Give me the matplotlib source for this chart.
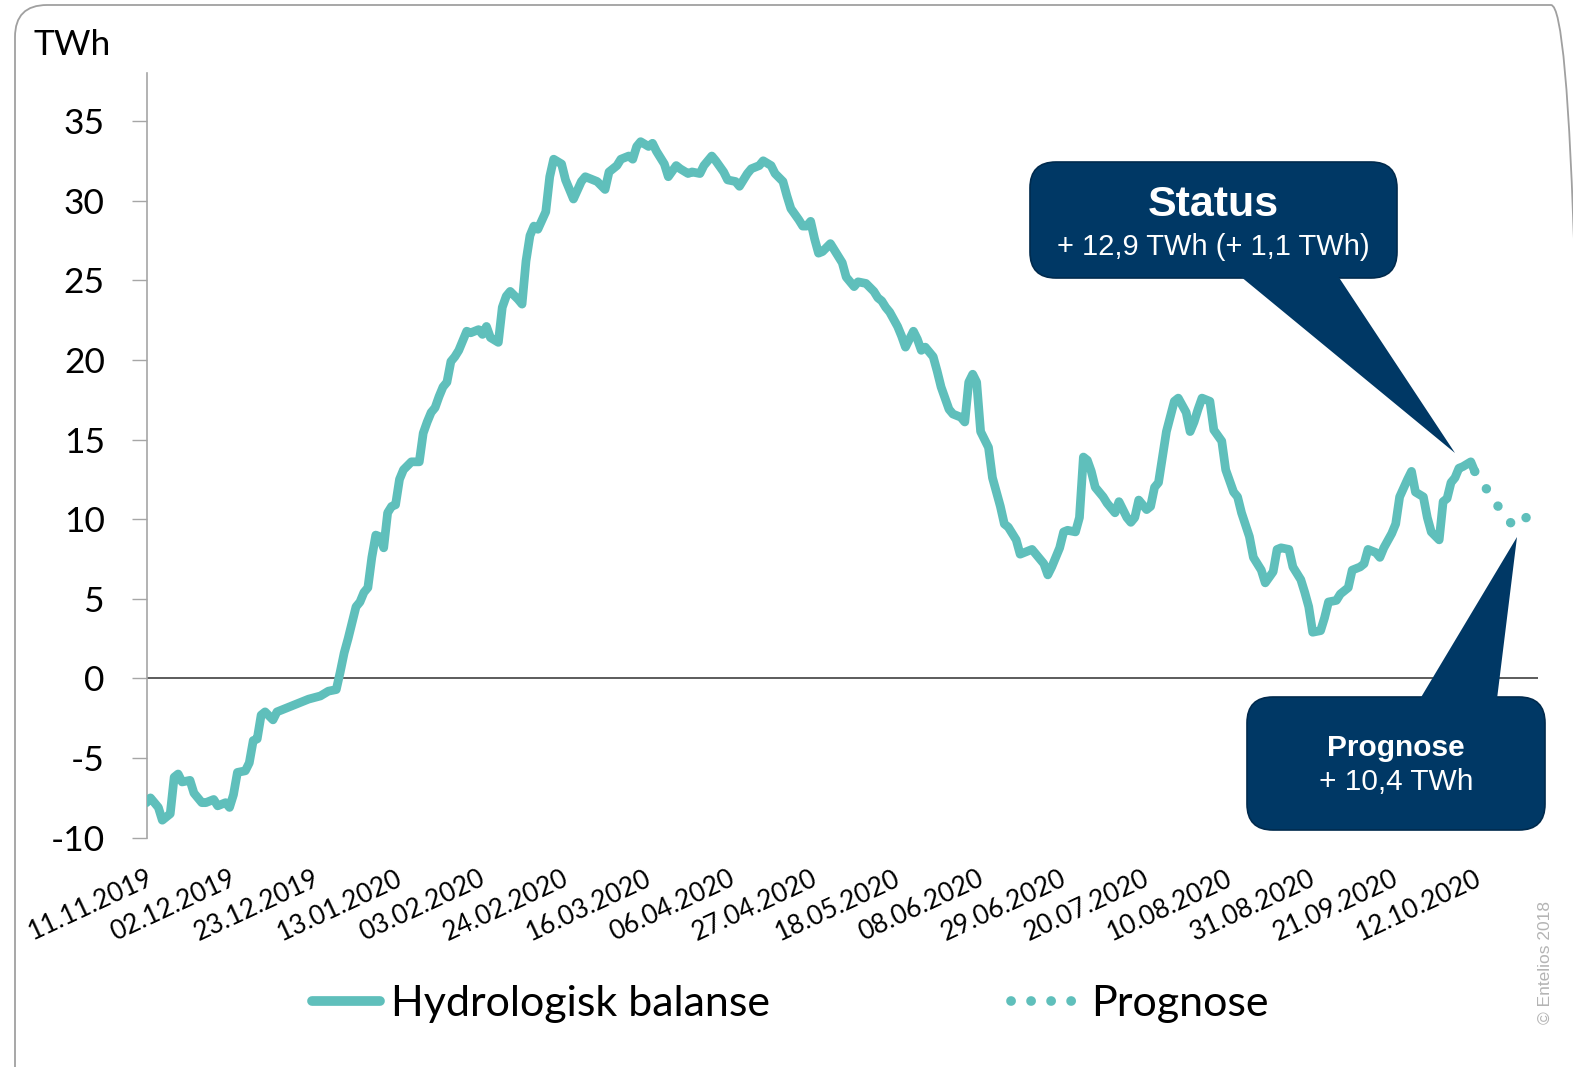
import numpy as np
import pandas as pd
import matplotlib
matplotlib.use("Agg")
import matplotlib.pyplot as plt
from matplotlib.patches import FancyBboxPatch, Polygon
from matplotlib.lines import Line2D
from matplotlib.transforms import IdentityTransform

# Data: hydrological balance (TWh), day offsets from start date
start_date = "2019-11-11"
hist_days = [0, 1, 3, 4, 6, 7, 8, 9, 11, 12, 14, 15, 17, 18, 20, 21, 22, 23, 25, 26,
             27, 28, 29, 30, 32, 33, 34, 36, 39, 41, 44, 46, 48, 49, 50, 51, 53, 54, 55, 56,
             57, 58, 59, 60, 61, 62, 63, 64, 65, 67, 69, 70, 71, 72, 73, 74, 75, 76, 77, 78,
             79, 81, 82, 83, 84, 85, 86, 87, 89, 90, 91, 92, 94, 95, 96, 97, 98, 99, 101, 102,
             103, 105, 106, 107, 108, 110, 111, 113, 114, 116, 117, 119, 120, 122, 123, 124, 125, 127, 128, 129,
             131, 132, 134, 135, 137, 138, 140, 141, 143, 144, 146, 147, 149, 150, 152, 153, 155, 156, 158, 159,
             161, 162, 163, 165, 166, 167, 168, 169, 170, 171, 173, 174, 176, 177, 179, 180, 182, 184, 185, 186,
             187, 188, 190, 191, 192, 193, 194, 195, 196, 197, 199, 200, 201, 203, 204, 206, 207, 208, 209, 210,
             211, 213, 214, 216, 217, 218, 220, 221, 222, 224, 225, 227, 228, 229, 231, 232, 233, 235, 236, 237,
             238, 239, 240, 242, 243, 245, 246, 248, 249, 250, 251, 253, 254, 255, 256, 257, 258, 260, 261, 263,
             264, 265, 266, 267, 269, 270, 272, 273, 275, 276, 277, 279, 280, 282, 283, 285, 286, 287, 289, 290,
             292, 293, 294, 295, 297, 298, 299, 301, 302, 304, 305, 307, 308, 309, 311, 312, 313, 315, 316, 317,
             319, 320, 321, 323, 324, 325, 327, 328, 329, 330, 331, 332, 333, 335, 336]
hist_vals = [-7.8, -7.5, -8.1, -8.9, -8.5, -6.2, -6.0, -6.5, -6.4, -7.2, -7.8, -7.8, -7.6, -8.0, -7.8, -8.1, -7.3, -5.9, -5.8, -5.3,
             -3.9, -3.8, -2.3, -2.1, -2.6, -2.1, -2.0, -1.8, -1.5, -1.3, -1.1, -0.8, -0.7, 0.4, 1.6, 2.5, 4.5, 4.8, 5.4, 5.7,
             7.6, 9.0, 8.9, 8.2, 10.4, 10.8, 10.9, 12.5, 13.1, 13.6, 13.6, 15.4, 16.1, 16.7, 17.0, 17.7, 18.3, 18.6, 19.9, 20.2,
             20.6, 21.8, 21.7, 21.8, 21.9, 21.6, 22.1, 21.4, 21.1, 23.3, 24.0, 24.3, 23.8, 23.5, 26.2, 27.8, 28.4, 28.2, 29.3, 31.5,
             32.6, 32.3, 31.3, 30.7, 30.1, 31.2, 31.5, 31.3, 31.2, 30.7, 31.8, 32.2, 32.6, 32.8, 32.6, 33.4, 33.7, 33.4, 33.6, 33.1,
             32.3, 31.5, 32.2, 32.0, 31.7, 31.8, 31.7, 32.2, 32.8, 32.5, 31.8, 31.3, 31.2, 30.9, 31.7, 32.0, 32.2, 32.5, 32.2, 31.7,
             31.2, 30.3, 29.5, 28.8, 28.4, 28.4, 28.7, 27.6, 26.7, 26.8, 27.3, 26.9, 26.1, 25.2, 24.6, 24.9, 24.8, 24.3, 23.9, 23.7,
             23.3, 23.0, 22.1, 21.5, 20.8, 21.3, 21.8, 21.3, 20.6, 20.8, 20.2, 19.3, 18.3, 16.9, 16.6, 16.4, 16.1, 18.6, 19.1, 18.6,
             15.5, 14.5, 12.6, 10.8, 9.7, 9.5, 8.7, 7.8, 7.9, 8.1, 7.8, 7.2, 6.5, 7.0, 8.2, 9.2, 9.3, 9.2, 10.1, 13.9,
             13.7, 13.0, 12.0, 11.4, 11.0, 10.4, 11.1, 10.1, 9.8, 10.1, 11.2, 10.6, 10.8, 12.0, 12.3, 13.9, 15.5, 17.4, 17.6, 16.7,
             15.5, 16.1, 16.9, 17.6, 17.4, 15.6, 14.9, 13.1, 11.7, 11.4, 10.4, 8.9, 7.6, 6.8, 6.0, 6.7, 8.1, 8.2, 8.1, 7.0,
             6.2, 5.4, 4.5, 2.9, 3.0, 3.8, 4.8, 4.9, 5.3, 5.7, 6.8, 7.0, 7.2, 8.1, 7.9, 7.6, 8.2, 9.1, 9.7, 11.4,
             12.5, 13.0, 11.7, 11.4, 10.1, 9.2, 8.7, 11.1, 11.3, 12.3, 12.6, 13.2, 13.3, 13.6, 13.0]

prog_days = [336, 343, 346, 350]
prog_vals = [13.0, 10.4, 9.5, 10.3]

tick_labels = ["11.11.2019", "02.12.2019", "23.12.2019", "13.01.2020", "03.02.2020",
               "24.02.2020", "16.03.2020", "06.04.2020", "27.04.2020", "18.05.2020",
               "08.06.2020", "29.06.2020", "20.07.2020", "10.08.2020", "31.08.2020",
               "21.09.2020", "12.10.2020"]
y_ticks = [-10, -5, 0, 5, 10, 15, 20, 25, 30, 35]

status_title = "Status"
status_text = "+ 12,9 TWh (+ 1,1 TWh)"
prog_title = "Prognose"
prog_text = "+ 10,4 TWh"

TEAL = "#5fbfbb"
NAVY = "#003865"
W, H = 1573, 1067

t0 = pd.Timestamp(start_date)
hist_dates = t0 + pd.to_timedelta(hist_days, unit="D")
prog_dates = t0 + pd.to_timedelta(prog_days, unit="D")
tick_dates = pd.to_datetime(tick_labels, format="%d.%m.%Y")

plt.rcParams['font.family'] = ['Lato', 'DejaVu Sans']

fig = plt.figure(figsize=(W / 100, H / 100), dpi=100)
ax = fig.add_axes([146.5 / W, 1 - 837.7 / H, (1538 - 146.5) / W, (837.7 - 73.2) / H])

ax.plot(hist_dates, hist_vals, color=TEAL, lw=6.3, solid_joinstyle="round",
        solid_capstyle="round", zorder=3)
ax.plot(prog_dates, prog_vals, color=TEAL, lw=6.8, linestyle=(0, (0.01, 2.2)),
        dash_capstyle="round", zorder=3)
ax.axhline(0, color="#404040", lw=1.2, zorder=2)

ax.set_xlim(t0, t0 + pd.Timedelta(days=352))
ax.set_ylim(-10, 38)
ax.set_yticks(y_ticks)
ax.set_yticklabels([str(v) for v in y_ticks], fontsize=25.5)
ax.set_xticks(tick_dates)
ax.set_xticklabels(tick_labels, rotation=25, ha="right", rotation_mode="anchor", fontsize=19)
ax.tick_params(axis="x", length=0, pad=20)
ax.tick_params(axis="y", length=11, width=1, color="#a6a6a6", pad=19)
for s in ["top", "right", "bottom"]:
    ax.spines[s].set_visible(False)
ax.spines["left"].set_color("#a6a6a6")
ax.spines["left"].set_linewidth(1.2)

fig.text(33 / W, 1 - 45 / H, "TWh", fontsize=25.5, va="center", ha="left")

# legend
handles = [Line2D([], [], color=TEAL, lw=7, solid_capstyle="round"),
           Line2D([], [], color=TEAL, lw=7, linestyle=(0, (0.01, 2.05)), dash_capstyle="round")]
fig.legend(handles, ["Hydrologisk balanse", "Prognose"], loc="center",
           bbox_to_anchor=(790 / W, 1 - 1004 / H), ncol=2, frameon=False,
           fontsize=31, handlelength=1.6, handletextpad=0.25, columnspacing=5.6)


def px(x, y):
    return (x / W, 1 - y / H)


# callout boxes, drawn in pixel units
def callout(x0, y0, x1, y1, tri):
    box = FancyBboxPatch((x0, H - y1), x1 - x0, y1 - y0,
                         boxstyle="round,pad=0,rounding_size=26",
                         transform=IdentityTransform(), facecolor=NAVY,
                         edgecolor="#002a4d", lw=1.2, zorder=5)
    fig.add_artist(box)
    poly = Polygon([(x, H - y) for x, y in tri], closed=True, transform=IdentityTransform(),
                   facecolor=NAVY, edgecolor="none", zorder=5)
    fig.add_artist(poly)


callout(1030, 162, 1397, 278, [(1240, 276), (1338, 276), (1455, 453)])
fig.text(*px(1213, 205), status_title, color="white", fontsize=31, fontweight="bold",
         ha="center", va="center", family="Liberation Sans", zorder=6)
fig.text(*px(1213, 247), status_text, color="white", fontsize=21,
         ha="center", va="center", family="Liberation Sans", zorder=6)

callout(1247, 697, 1545, 830, [(1420, 699), (1497, 699), (1517, 537)])
fig.text(*px(1396, 748), prog_title, color="white", fontsize=21.5, fontweight="bold",
         ha="center", va="center", family="Liberation Sans", zorder=6)
fig.text(*px(1396, 782), prog_text, color="white", fontsize=21.5,
         ha="center", va="center", family="Liberation Sans", zorder=6)

# outer rounded frame (partly outside the image)
frame = FancyBboxPatch((15, -40), 1573 + 40 - 15 - 30, H - 5 + 40,
                       boxstyle="round,pad=0,rounding_size=32",
                       transform=IdentityTransform(), facecolor="none",
                       edgecolor="#a0a0a0", lw=1.3, zorder=0)
fig.add_artist(frame)

fig.text(*px(1545, 962), "\u00a9 Entelios 2018", rotation=90, color="#b4b4b4",
         fontsize=12.5, ha="center", va="center", family="Liberation Sans")

fig.savefig("out.png", dpi=100)
